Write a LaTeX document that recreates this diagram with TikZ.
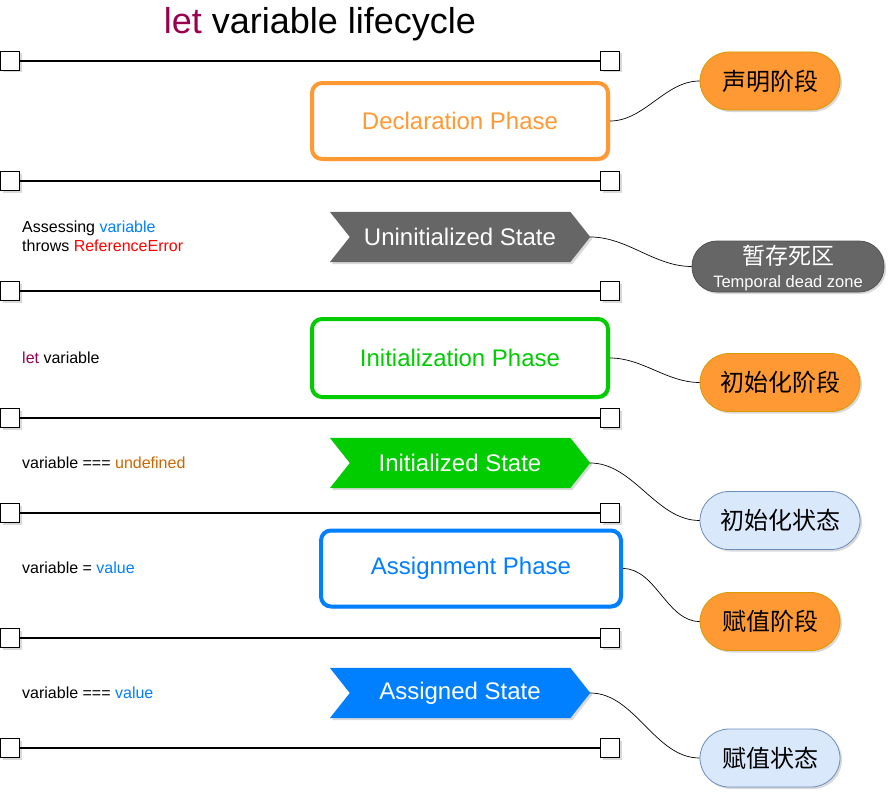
\documentclass[tikz,border=0pt]{standalone}
\usepackage{fontspec}
\setmainfont{Liberation Sans}
\newfontfamily\cjk{Noto Sans CJK SC}
\usetikzlibrary{shadows,backgrounds}
\definecolor{cOrange}{HTML}{FF9933}
\definecolor{cOrangeLine}{HTML}{D79B00}
\definecolor{cGrey}{HTML}{666666}
\definecolor{cGreen}{HTML}{00CC00}
\definecolor{cBlue}{HTML}{007FFF}
\definecolor{cMaroon}{HTML}{99004D}
\definecolor{cUndef}{HTML}{CC6600}
\definecolor{cLightBlue}{HTML}{DAE8FC}
\definecolor{cLightBlueLine}{HTML}{6C8EBF}
\begin{document}
\begin{tikzpicture}[x=1pt,y=-1pt,
  shade/.style={drop shadow={shadow xshift=2pt,shadow yshift=-2pt,opacity=0.25,fill=black!60}},
  endbox/.style={draw=black,fill=white,line width=0.8pt,minimum size=19pt,inner sep=0pt,shade},
  hline/.style={line width=1.6pt,black},
  phasebox/.style={line width=4pt,fill=white,rounded corners=10pt,minimum width=296pt,minimum height=76pt,
    inner sep=0pt,font=\fontsize{24}{28}\selectfont,shade},
  statebox/.style={minimum width=260pt,minimum height=50pt,inner sep=0pt,text=white,
    font=\fontsize{24}{28}\selectfont},
  pill/.style={line width=0.8pt,inner sep=0pt,font=\cjk\fontsize{24}{28}\selectfont,shade},
  orangepill/.style={pill,fill=cOrange,draw=cOrangeLine,rounded corners=29pt,minimum height=58pt},
  bluepill/.style={pill,fill=cLightBlue,draw=cLightBlueLine,rounded corners=29pt,minimum height=58pt},
  note/.style={anchor=base west,inner sep=0pt,font=\fontsize{16}{19}\selectfont},
  link/.style={line width=0.7pt,black,out=0,in=180,looseness=0.9}
]
\useasboundingbox (0,0) rectangle (894,800);

% title
\node[anchor=base,inner sep=0pt,font=\fontsize{36}{42}\selectfont] (title) at (320,34)
  {\textcolor{cMaroon}{let} variable lifecycle};

% horizontal separators
\foreach \i/\yy in {1/61,2/181,3/291,4/418,5/513,6/638,7/748}{
  \node[endbox] (la\i) at (10,\yy) {};
  \node[endbox] (lb\i) at (610,\yy) {};
  \draw[hline] (la\i) -- (lb\i);
}

% phases
\node[phasebox,draw=cOrange,text=cOrange] (dp) at (460,121) {Declaration Phase};
\node[phasebox,draw=cGreen,text=cGreen,minimum height=78pt] (ip) at (460,358) {Initialization Phase};
\node[phasebox,draw=cBlue,text=cBlue,minimum width=300pt] (ap) at (471,568.5) {Assignment Phase};

% states (step shapes)
\node[statebox] (us) at (460,237) {Uninitialized State};
\node[statebox] (is) at (460,463) {Initialized State};
\node[statebox] (as) at (460,693) {Assigned State};
\begin{scope}[on background layer]
\foreach \n/\c in {us/cGrey,is/cGreen,as/cBlue}{
  \fill[\c,shade] (\n.north west) -- ([xshift=-20pt]\n.north east) -- (\n.east)
    -- ([xshift=-20pt]\n.south east) -- (\n.south west) -- ([xshift=20pt]\n.west) -- cycle;
}
\end{scope}

% left notes
\node[note] (n1) at (22,232) {Assessing \textcolor{cBlue}{variable}};
\node[note] (n2) at (22,251) {throws \textcolor{red}{ReferenceError}};
\node[note] (n3) at (22,363) {\textcolor{cMaroon}{let} variable};
\node[note] (n4) at (22,468) {variable === \textcolor{cUndef}{undefined}};
\node[note] (n5) at (22,573) {variable = \textcolor{cBlue}{value}};
\node[note] (n6) at (22,698) {variable === \textcolor{cBlue}{value}};

% callouts
\node[orangepill,minimum width=140pt] (c1) at (770,81) {声明阶段};
\node[pill,fill=cGrey,draw=cGrey!80!black,rounded corners=25pt,minimum height=51pt,minimum width=192pt,
  text=white,align=center,text depth=0pt] (c2) at (788,266.5)
  {\cjk\fontsize{23}{25}\selectfont 暂存死区\\[-5pt]\fontsize{16.5}{18}\selectfont\rmfamily Temporal dead zone};
\node[orangepill,minimum width=160pt] (c3) at (780,382.5) {初始化阶段};
\node[bluepill,minimum width=160pt] (c4) at (780,520.5) {初始化状态};
\node[orangepill,minimum width=140pt] (c5) at (770,621.5) {赋值阶段};
\node[bluepill,minimum width=140pt] (c6) at (770,758) {赋值状态};

% connectors
\draw[link] (dp.east) to (c1.west);
\draw[link] (us.east) to (c2.west);
\draw[link] (ip.east) to (c3.west);
\draw[link] (is.east) to (c4.west);
\draw[link] (ap.east) to (c5.west);
\draw[link] (as.east) to (c6.west);
\end{tikzpicture}
\end{document}
